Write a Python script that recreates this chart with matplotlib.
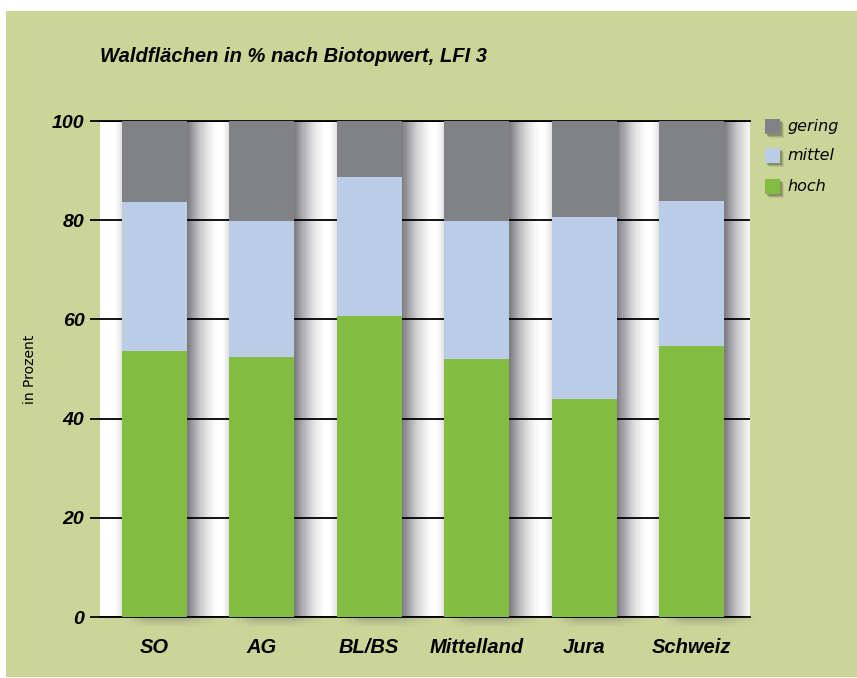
import matplotlib.pyplot as plt
import numpy as np
from matplotlib.patches import Rectangle
from matplotlib.colors import to_rgb

# Waldflaechen nach Biotopwert, LFI 3

regions = ["SO", "AG", "BL/BS", "Mittelland", "Jura", "Schweiz"]
hoch = [53.6, 52.4, 60.7, 52.0, 44.0, 54.7]
mittel = [30.1, 27.4, 28.0, 27.8, 36.6, 29.2]
gering = [16.3, 20.2, 11.3, 20.2, 19.4, 16.1]

c_hoch = "#82bd41"
c_mittel = "#bbcce6"
c_gering = "#808285"
c_bg = "#cbd597"
c_shade = "#6b6b72"

W, H = 857, 678
fig = plt.figure(figsize=(W / 100, H / 100), dpi=100)
fig.patch.set_facecolor("white")

def fx(px):
    return px / W

def fy(py):
    return (H - py) / H

def mix(base, a):
    b = np.array(to_rgb(base))
    s = np.array(to_rgb(c_shade))
    return tuple(b * (1 - a) + s * a)

# olive background
fig.patches.append(Rectangle((fx(6), fy(677)), fx(857) - fx(6), fy(11) - fy(677),
                             transform=fig.transFigure, facecolor=c_bg, edgecolor="none", zorder=-10))

ax = fig.add_axes([fx(100), fy(617), fx(750) - fx(100), fy(121) - fy(617)])
ax.set_zorder(1)
ax.set_facecolor("white")
for s in ax.spines.values():
    s.set_visible(False)

x = np.arange(len(regions))
width = 0.605

# soft shadows next to and under the bars, built from opaque strips
n = 30
for xi in x:
    l, r = xi - width / 2, xi + width / 2
    dw = 0.3 / n
    for k in range(n - 1, -1, -1):
        a = 0.9 * (1 - (k + 0.5) / n) ** 1.7
        ax.add_patch(Rectangle((r + k * dw, 0), dw * 1.5, 100, facecolor=mix("white", a),
                               edgecolor="none", zorder=1))
    dl = 0.09 / 10
    for k in range(10):
        a = 0.22 * ((k + 0.5) / 10) ** 2
        ax.add_patch(Rectangle((l - 0.09 + k * dl, 0), dl * 1.5, 100, facecolor=mix("white", a),
                               edgecolor="none", zorder=1))
    # shadow below the zero line
    rows, cols = 6, 20
    x0, x1 = l + 0.03, r + 0.3
    cw = (x1 - x0) / cols
    rh = 2.4 / rows
    for i in range(rows):
        for j in range(cols):
            u = (j + 0.5) / cols
            fade = min(u / 0.25, (1 - u) / 0.4, 1.0)
            a = 0.5 * (1 - (i + 0.5) / rows) ** 1.5 * fade
            p = Rectangle((x0 + j * cw, -(i + 1) * rh), cw, rh, facecolor=mix(c_bg, a),
                          edgecolor=mix(c_bg, a), linewidth=0.3, zorder=1)
            p.set_clip_on(False)
            ax.add_patch(p)

ax.set_xlim(-0.507, 5.545)
ax.set_ylim(0, 100)

ax.bar(x, hoch, width, color=c_hoch, zorder=3)
ax.bar(x, mittel, width, bottom=hoch, color=c_mittel, zorder=3)
ax.bar(x, gering, width, bottom=np.add(hoch, mittel), color=c_gering, zorder=3)

ax.set_yticks([0, 20, 40, 60, 80, 100])
ax.yaxis.grid(True, color="black", linewidth=1.3)
for yv in [0, 100]:
    ax.axhline(yv, color="black", linewidth=1.3, zorder=2, clip_on=False)
ax.tick_params(axis="y", length=7.2, width=1.3, pad=4, color="black")
ax.tick_params(axis="x", length=0, pad=15)
ax.set_xticks(x)
ax.set_xticklabels(regions)
for lab in ax.get_xticklabels():
    lab.set_fontsize(14.5)
for lab in ax.get_yticklabels():
    lab.set_fontsize(14)
for lab in ax.get_xticklabels() + ax.get_yticklabels():
    lab.set_family("Liberation Sans")
    lab.set_fontweight("bold")
    lab.set_fontstyle("italic")

fig.text(fx(100), fy(57), "Waldflächen in % nach Biotopwert, LFI 3", family="Liberation Sans",
         fontweight="bold", fontstyle="italic", fontsize=14.5, ha="left", va="center")
fig.text(fx(30), fy(369), "in Prozent", family="DejaVu Sans", fontsize=10, rotation=90,
         ha="center", va="center")

# legend
leg = [("gering", c_gering, 127), ("mittel", c_mittel, 156), ("hoch", c_hoch, 187)]
for name, col, yc in leg:
    for k, al in [(4, 0.12), (3, 0.2), (2, 0.3)]:
        fig.patches.append(Rectangle((fx(765 + k), fy(yc + 7 + k)), fx(15), 15 / H,
                                     transform=fig.transFigure, facecolor="#4a4a3a",
                                     alpha=al, edgecolor="none", zorder=2))
    fig.patches.append(Rectangle((fx(765), fy(yc + 7)), fx(15), 15 / H,
                                 transform=fig.transFigure, facecolor=col, edgecolor="none", zorder=3))
    fig.text(fx(787), fy(yc), name, family="DejaVu Sans", fontstyle="italic", fontsize=11.5,
             ha="left", va="center")

plt.savefig("out.png", dpi=100)
